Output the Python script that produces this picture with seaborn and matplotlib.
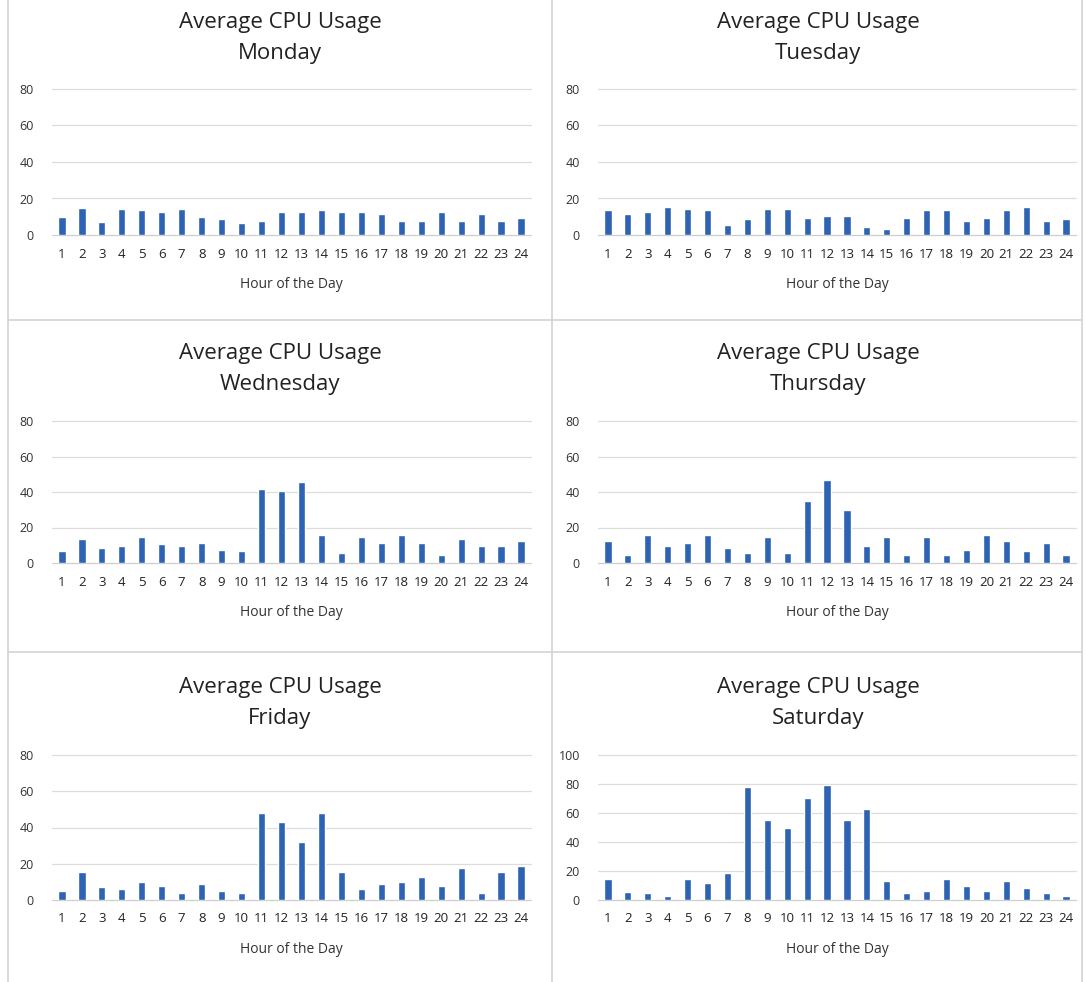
import numpy as np
import pandas as pd
import matplotlib.pyplot as plt
import seaborn as sns
from matplotlib.lines import Line2D

hours = list(range(1, 25))

monday    = [10, 15, 7, 14, 13.5, 12.5, 14.5, 10, 8.5, 6.5, 7.5, 12.5, 12.5, 13.5, 12.5, 12.5, 11.5, 7.5, 7.5, 12.5, 7.5, 11.5, 7.5, 9.5]
tuesday   = [13.5, 11.5, 12.5, 15.5, 14.5, 13.5, 5.5, 8.5, 14.5, 14.5, 9.5, 10.5, 10.5, 4.5, 3.5, 9.5, 13.5, 13.5, 7.5, 9.5, 13.5, 15.5, 7.5, 8.5]
wednesday = [6.5, 13.5, 8.5, 9.5, 14.5, 10.5, 9.5, 11.5, 7.5, 6.5, 41.5, 40.5, 45.5, 15.5, 5.5, 14.5, 11.5, 15.5, 11.5, 4.5, 13.5, 9.5, 9.5, 12.5]
thursday  = [12.5, 4.5, 15.5, 9.5, 11.5, 15.5, 8.5, 5.5, 14.5, 5.5, 35, 46.5, 30, 9.5, 14.5, 4.5, 14.5, 4.5, 7.5, 15.5, 12.5, 6.5, 11.5, 4.5]
friday    = [5, 15.5, 7, 6, 10, 8, 4, 9, 5, 4, 48, 43, 32, 48, 15.5, 6, 9, 10, 12.5, 8, 17.5, 4, 15.5, 18.5]
saturday  = [14.5, 5.5, 4.5, 3, 14.5, 12, 18.5, 78, 55.5, 50, 70.5, 79.5, 55.5, 63, 13, 4.5, 6.5, 14.5, 9.5, 6.5, 13, 8, 4.5, 3]

days = ["Monday", "Tuesday", "Wednesday", "Thursday", "Friday", "Saturday"]
series = [monday, tuesday, wednesday, thursday, friday, saturday]
y_max = [80, 80, 80, 80, 80, 100]

sns.set_style("white")
plt.rcParams["font.family"] = ["Open Sans", "DejaVu Sans"]

W, H = 1085, 982
fig = plt.figure(figsize=(W / 100, H / 100), dpi=100)

bar_color = "#2E62B3"
grid_color = "#DDDDDD"

# axes boxes in pixels: (left, right) and (top = max gridline, bottom = 0 line)
cols = [(52, 531), (598, 1076)]
rows = [(89, 235), (421, 563), (755, 900)]
panel_centers_x = [280, 818]
title_y = [12, 343, 677]

for i, (day, vals, ymax) in enumerate(zip(days, series, y_max)):
    r, c = divmod(i, 2)
    x0, x1 = cols[c]
    yt, yb = rows[r]
    ax = fig.add_axes([x0 / W, 1 - yb / H, (x1 - x0) / W, (yb - yt) / H])
    df = pd.DataFrame({"hour": hours, "cpu": vals})
    sns.barplot(data=df, x="hour", y="cpu", color=bar_color, saturation=1,
                width=0.36, ax=ax, zorder=3)
    ax.set_ylim(0, ymax)
    ax.set_yticks(np.arange(0, ymax + 1, 20))
    ax.set_xlim(-0.5, 23.5)
    for yv in np.arange(0, ymax + 1, 20):
        ax.axhline(yv, color=grid_color if yv else "#CFCFCF", lw=0.9, zorder=1, clip_on=False)
    sns.despine(ax=ax, left=True, bottom=True)
    ax.tick_params(axis="both", length=0, labelsize=9, colors="#333333")
    ax.tick_params(axis="x", labelsize=9.5, pad=9, colors="#222222")
    ax.tick_params(axis="y", pad=13)
    ax.set_ylabel("")
    ax.set_xlabel("Hour of the Day", fontsize=10, color="#333333", labelpad=12)
    fig.text(panel_centers_x[c] / W, 1 - title_y[r] / H,
             f"Average CPU Usage\n{day}", ha="center", va="top",
             fontsize=16, color="#222222", linespacing=1.6)

# panel frame lines
frame = "#D3D3D3"
for xp in [8, 552, 1082]:
    fig.add_artist(Line2D([xp / W, xp / W], [0, 1], color=frame, lw=1.2))
for yp in [320, 652]:
    fig.add_artist(Line2D([8 / W, 1082 / W], [1 - yp / H, 1 - yp / H], color=frame, lw=1.2))

plt.savefig("out.png", dpi=100)
